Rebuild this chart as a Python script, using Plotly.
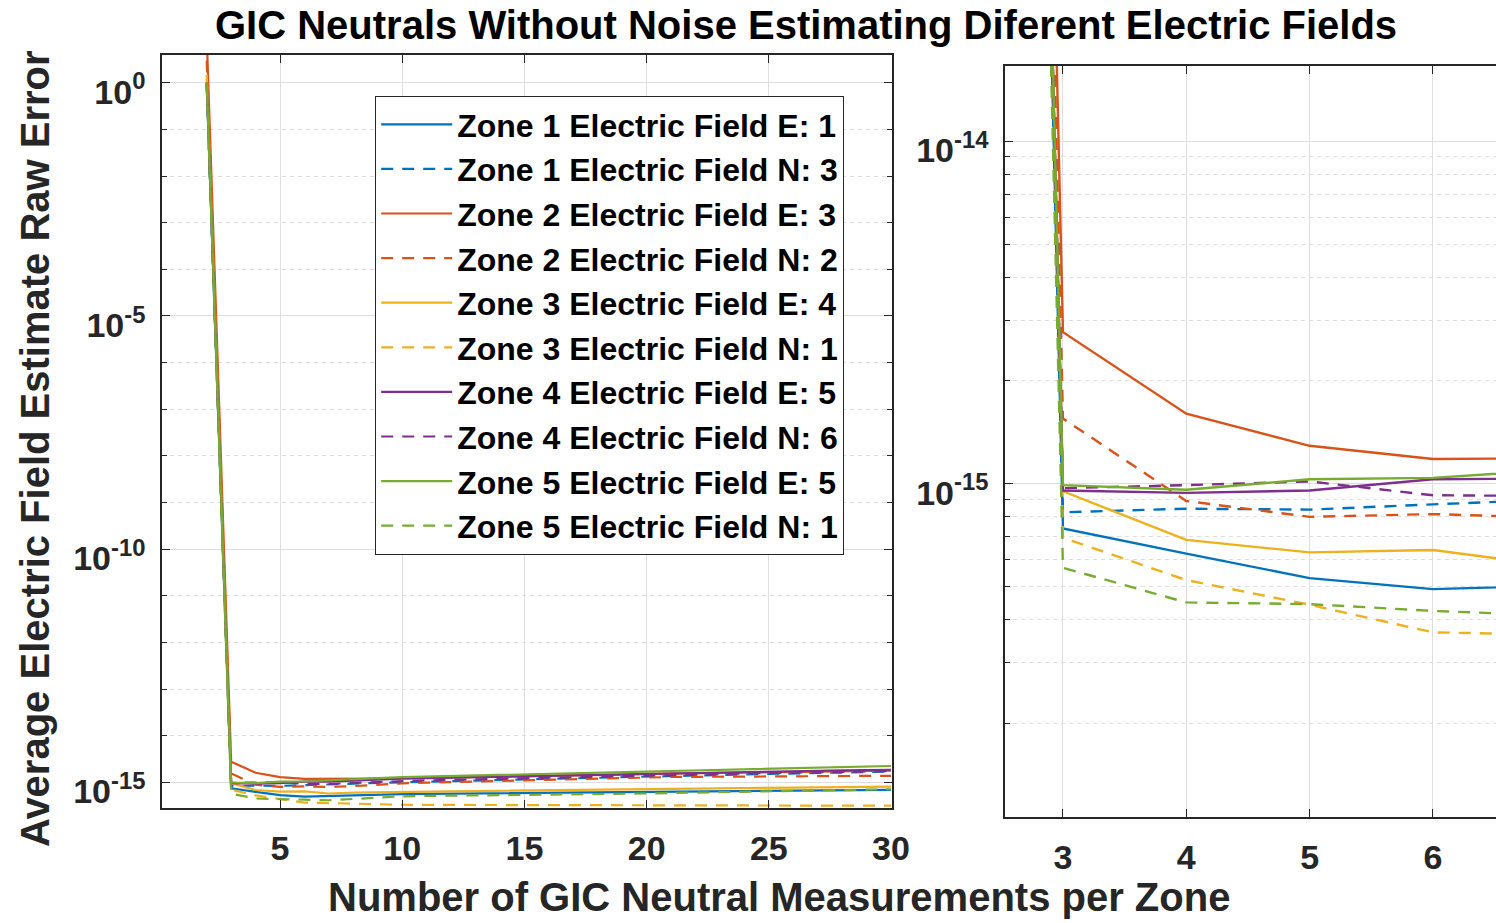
import plotly.graph_objects as go

# ---------------- data ----------------
x_vals = list(range(2, 31))

zone1_E = [0.9, 7.4e-16, 6.25e-16, 5.3e-16, 4.92e-16, 5.1e-16, 5.25e-16, 5.45e-16, 5.6e-16, 5.65e-16,
           5.7e-16, 5.8e-16, 5.9e-16, 6.0e-16, 6.05e-16, 6.1e-16, 6.15e-16, 6.25e-16, 6.3e-16, 6.35e-16,
           6.4e-16, 6.5e-16, 6.55e-16, 6.6e-16, 6.65e-16, 6.7e-16, 6.8e-16, 6.85e-16, 6.9e-16]
zone1_N = [0.95, 8.25e-16, 8.45e-16, 8.4e-16, 8.7e-16, 9.1e-16, 9.4e-16, 9.7e-16, 1.0e-15, 1.03e-15,
           1.06e-15, 1.09e-15, 1.13e-15, 1.17e-15, 1.20e-15, 1.23e-15, 1.27e-15, 1.31e-15, 1.35e-15, 1.38e-15,
           1.41e-15, 1.45e-15, 1.48e-15, 1.51e-15, 1.55e-15, 1.58e-15, 1.62e-15, 1.66e-15, 1.70e-15]
zone2_E = [10.0, 2.77e-15, 1.60e-15, 1.29e-15, 1.18e-15, 1.175e-15, 1.18e-15, 1.2e-15, 1.23e-15, 1.25e-15,
           1.27e-15, 1.29e-15, 1.32e-15, 1.35e-15, 1.38e-15, 1.40e-15, 1.43e-15, 1.46e-15, 1.51e-15, 1.54e-15,
           1.56e-15, 1.59e-15, 1.62e-15, 1.66e-15, 1.68e-15, 1.71e-15, 1.74e-15, 1.76e-15, 1.78e-15]
zone2_N = [3.0, 1.55e-15, 8.9e-16, 8.0e-16, 8.15e-16, 7.95e-16, 8.3e-16, 8.9e-16, 9.5e-16, 9.8e-16,
           1.01e-15, 1.04e-15, 1.08e-15, 1.12e-15, 1.15e-15, 1.18e-15, 1.21e-15, 1.26e-15, 1.29e-15, 1.30e-15,
           1.31e-15, 1.32e-15, 1.33e-15, 1.35e-15, 1.35e-15, 1.36e-15, 1.37e-15, 1.37e-15, 1.38e-15]
zone3_E = [1.5, 9.5e-16, 6.85e-16, 6.3e-16, 6.4e-16, 5.75e-16, 6.0e-16, 6.15e-16, 6.3e-16, 6.35e-16,
           6.4e-16, 6.5e-16, 6.6e-16, 6.75e-16, 6.8e-16, 6.9e-16, 7.0e-16, 7.1e-16, 7.25e-16, 7.3e-16,
           7.35e-16, 7.4e-16, 7.5e-16, 7.6e-16, 7.7e-16, 7.8e-16, 7.9e-16, 8.0e-16, 8.1e-16]
zone3_N = [1.2, 6.95e-16, 5.23e-16, 4.43e-16, 3.68e-16, 3.59e-16, 3.45e-16, 3.35e-16, 3.3e-16, 3.28e-16,
           3.27e-16, 3.26e-16, 3.25e-16, 3.24e-16, 3.23e-16, 3.22e-16, 3.21e-16, 3.2e-16, 3.18e-16, 3.18e-16,
           3.17e-16, 3.17e-16, 3.16e-16, 3.16e-16, 3.16e-16, 3.15e-16, 3.15e-16, 3.15e-16, 3.15e-16]
zone4_E = [1.0, 9.55e-16, 9.4e-16, 9.55e-16, 1.03e-15, 1.035e-15, 1.08e-15, 1.15e-15, 1.20e-15, 1.23e-15,
           1.26e-15, 1.29e-15, 1.32e-15, 1.38e-15, 1.41e-15, 1.44e-15, 1.47e-15, 1.51e-15, 1.55e-15, 1.58e-15,
           1.61e-15, 1.64e-15, 1.67e-15, 1.70e-15, 1.73e-15, 1.77e-15, 1.80e-15, 1.83e-15, 1.86e-15]
zone4_N = [1.0, 9.7e-16, 9.9e-16, 1.015e-15, 9.25e-16, 9.2e-16, 9.7e-16, 1.02e-15, 1.07e-15, 1.10e-15,
           1.13e-15, 1.16e-15, 1.20e-15, 1.26e-15, 1.29e-15, 1.32e-15, 1.35e-15, 1.38e-15, 1.41e-15, 1.44e-15,
           1.47e-15, 1.51e-15, 1.55e-15, 1.58e-15, 1.61e-15, 1.64e-15, 1.68e-15, 1.71e-15, 1.74e-15]
zone5_E = [1.0, 9.9e-16, 9.6e-16, 1.03e-15, 1.04e-15, 1.11e-15, 1.17e-15, 1.23e-15, 1.29e-15, 1.33e-15,
           1.38e-15, 1.41e-15, 1.45e-15, 1.51e-15, 1.55e-15, 1.58e-15, 1.62e-15, 1.66e-15, 1.70e-15, 1.75e-15,
           1.80e-15, 1.84e-15, 1.90e-15, 1.95e-15, 2.00e-15, 2.05e-15, 2.10e-15, 2.18e-15, 2.24e-15]
zone5_N = [0.9, 5.68e-16, 4.5e-16, 4.45e-16, 4.25e-16, 4.12e-16, 4.4e-16, 4.7e-16, 5.0e-16, 5.1e-16,
           5.15e-16, 5.25e-16, 5.3e-16, 5.4e-16, 5.45e-16, 5.55e-16, 5.6e-16, 5.7e-16, 5.75e-16, 5.9e-16,
           6.0e-16, 6.15e-16, 6.3e-16, 6.45e-16, 6.6e-16, 6.75e-16, 6.85e-16, 7.0e-16, 7.1e-16]

series_names = [
    "Zone 1 Electric Field E: 1", "Zone 1 Electric Field N: 3",
    "Zone 2 Electric Field E: 3", "Zone 2 Electric Field N: 2",
    "Zone 3 Electric Field E: 4", "Zone 3 Electric Field N: 1",
    "Zone 4 Electric Field E: 5", "Zone 4 Electric Field N: 6",
    "Zone 5 Electric Field E: 5", "Zone 5 Electric Field N: 1",
]
series_values = [zone1_E, zone1_N, zone2_E, zone2_N, zone3_E, zone3_N, zone4_E, zone4_N, zone5_E, zone5_N]

left_xticks = [5, 10, 15, 20, 25, 30]
left_yticks = [1e-15, 1e-10, 1e-5, 1]
left_yticktext = ["10<sup>-15</sup>", "10<sup>-10</sup>", "10<sup>-5</sup>", "10<sup>0</sup>"]
right_xticks = [3, 4, 5, 6]
right_yticks = [1e-15, 1e-14]
right_yticktext = ["10<sup>-15</sup>", "10<sup>-14</sup>"]

title_text = "GIC Neutrals Without Noise Estimating Diferent Electric Fields"
xlabel_text = "Number of GIC Neutral Measurements per Zone"
ylabel_text = "Average Electric Field Estimate Raw Error"

# ---------------- style / layout ----------------
W, H = 1514, 923
W_EFF = W - 18          # horizontal extent the page shows the figure at


def px(x):
    return min(x / W_EFF, 1.0)


def py(y):
    return (H - y) / H


colors = ["#0072BD", "#0072BD", "#D95319", "#D95319", "#EDB120", "#EDB120",
          "#7E2F8E", "#7E2F8E", "#77AC30", "#77AC30"]
dashes = ["solid", "12px,9px"] * 5
FONT = "Liberation Sans, Arial, sans-serif"
AXC = "#262626"
GRID = "#dedede"

fig = go.Figure()
for name, vals, c, d in zip(series_names, series_values, colors, dashes):
    fig.add_trace(go.Scatter(x=x_vals, y=vals, mode="lines", name=name,
                             line=dict(color=c, width=2.2, dash=d),
                             xaxis="x", yaxis="y", showlegend=True))
for name, vals, c, d in zip(series_names, series_values, colors, dashes):
    fig.add_trace(go.Scatter(x=x_vals, y=vals, mode="lines", name=name,
                             line=dict(color=c, width=2.4, dash=d),
                             xaxis="x2", yaxis="y2", showlegend=False))

left_minor = [10.0 ** k for k in range(-16, 2) if k % 5 != 0]
right_minor = [m * 1e-16 for m in range(2, 10)] + [m * 1e-15 for m in range(2, 10)]

tickfont = dict(family=FONT, size=34, color="#262626", weight="bold")

common_x = dict(showgrid=True, gridcolor=GRID, gridwidth=1, showline=True, linecolor=AXC,
                linewidth=1.5, ticks="inside", ticklen=8, tickcolor=AXC, tickwidth=1.2,
                tickfont=tickfont, zeroline=False, ticklabelstandoff=9)
common_y = dict(type="log", showgrid=True, gridcolor=GRID, gridwidth=1, showline=True, linecolor=AXC,
                linewidth=1.5, ticks="inside", ticklen=8, tickcolor=AXC, tickwidth=1.2,
                tickfont=tickfont, zeroline=False, tickmode="array", ticklabelstandoff=8,
                ticklabelshift=9)

# right panel: the reference crops its x axis at the page edge (x = 6 at 1433 px, 123.3 px per unit)
right_x_end = 6 + (min(W_EFF, 1496) - 1433) / 123.3

fig.update_layout(
    width=W, height=H, autosize=False,
    margin=dict(l=0, r=0, t=0, b=0, pad=0),
    paper_bgcolor="white", plot_bgcolor="white",
    font=dict(family=FONT, color="black"),
    xaxis=dict(domain=[px(162), px(892)], range=[0.17, 30.04], tickvals=left_xticks,
               mirror="ticks", anchor="y", **common_x),
    yaxis=dict(domain=[py(810), py(55)], range=[-15.556, 0.599], tickvals=left_yticks,
               ticktext=left_yticktext, mirror="ticks", anchor="x",
               minor=dict(tickvals=left_minor, showgrid=True, gridcolor=GRID, griddash="4px,4px",
                          ticks="inside", ticklen=5, tickcolor=AXC),
               **common_y),
    xaxis2=dict(domain=[px(1005), px(1496)], range=[2.53, right_x_end], tickvals=right_xticks,
                mirror="ticks", anchor="y2", **common_x),
    yaxis2=dict(domain=[py(819), py(66)], range=[-15.974, -13.78], tickvals=right_yticks,
                ticktext=right_yticktext, anchor="x2",
                minor=dict(tickvals=right_minor, showgrid=True, gridcolor=GRID, griddash="4px,4px",
                           ticks="inside", ticklen=5, tickcolor=AXC),
                **common_y),
    legend=dict(x=px(375), y=py(96), xanchor="left", yanchor="top",
                bgcolor="white", bordercolor=AXC, borderwidth=1.2,
                font=dict(family=FONT, size=32, color="black", weight="bold"),
                itemwidth=71, tracegroupgap=0),
    showlegend=True,
)

fig.add_annotation(text="<b>" + title_text + "</b>", xref="paper", yref="paper",
                   x=px(806), y=py(25), showarrow=False, xanchor="center", yanchor="middle",
                   font=dict(family=FONT, size=40, color="black"))
fig.add_annotation(text="<b>" + xlabel_text + "</b>", xref="paper", yref="paper",
                   x=px(779), y=py(899), showarrow=False, xanchor="center", yanchor="middle",
                   font=dict(family=FONT, size=40, color="#262626"))
fig.add_annotation(text="<b>" + ylabel_text + "</b>", xref="paper", yref="paper",
                   x=px(35), y=py(450), showarrow=False, xanchor="center", yanchor="middle",
                   textangle=-90, font=dict(family=FONT, size=40, color="#262626"))

fig.write_html("out.html")
